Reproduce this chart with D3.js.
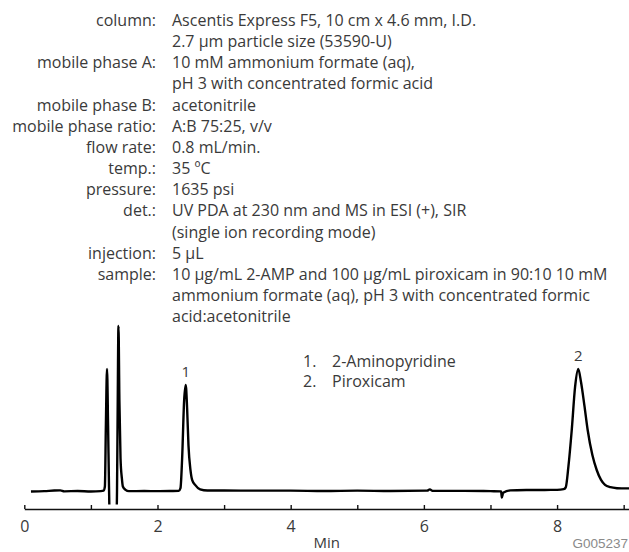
<!DOCTYPE html>
<html>
<head>
<meta charset="utf-8">
<script src="https://cdn.jsdelivr.net/npm/d3@7"></script>
<style>
  body { margin: 0; background: #fff; }
  svg { display: block; }
</style>
</head>
<body>
<div id="chart"></div>
<script>
// conditions block (label column / value column)
const condLabels = ['column:', '', 'mobile phase A:', '', 'mobile phase B:', 'mobile phase ratio:',
  'flow rate:', 'temp.:', 'pressure:', 'det.:', '', 'injection:', 'sample:', '', ''];
const condValues = ['Ascentis Express F5, 10 cm x 4.6 mm, I.D.', '2.7 µm particle size (53590-U)',
  '10 mM ammonium formate (aq),', 'pH 3 with concentrated formic acid', 'acetonitrile',
  'A:B 75:25, v/v', '0.8 mL/min.', '35 ºC', '1635 psi', 'UV PDA at 230 nm and MS in ESI (+), SIR',
  '(single ion recording mode)', '5 µL', '10 µg/mL 2-AMP and 100 µg/mL piroxicam in 90:10 10 mM',
  'ammonium formate (aq), pH 3 with concentrated formic', 'acid:acetonitrile'];

// legend
const peakNames = ['2-Aminopyridine', 'Piroxicam'];
const peakLabels = ['1', '2'];
const peakTimes = [2.424, 8.318];
const peakHeights = [64.4, 74];

// axis
const tickValues = [0, 1, 2, 3, 4, 5, 6, 7, 8, 9];
const tickLabels = ['0', '', '2', '', '4', '', '6', '', '8', ''];

// chromatogram trace (time in min, signal in relative units)
const timeMin = [0.10, 0.30, 0.45, 0.54, 0.60, 0.80, 1.00, 1.15, 1.19, 1.21, 1.225, 1.242, 1.258, 1.272,
  1.285, 1.38, 1.392, 1.402, 1.414, 1.428, 1.445, 1.465, 1.48, 1.52, 1.57, 1.8, 2.0, 2.2, 2.32, 2.345,
  2.37, 2.40, 2.424, 2.445, 2.465, 2.495, 2.52, 2.565, 2.64, 2.75, 3.0, 3.5, 4.0, 4.5, 5.0, 5.5, 6.05,
  6.09, 6.13, 6.6, 7.0, 7.16, 7.17, 7.19, 7.3, 7.6, 8.0, 8.10, 8.13, 8.17, 8.22, 8.27, 8.318, 8.36, 8.41,
  8.46, 8.53, 8.595, 8.66, 8.72, 8.80, 8.90, 8.97, 9.08];
const signal = [0, 0.2, 0.6, 0.7, 0.1, 0.3, 0.0, 0.2, 0.5, 3, 40, 74, 40, 3,
  -20, -20, 0, 50, 100, 55, 20, 8, 3, 1, 0.2, 0.3, 0.2, 0.3, 0.4, 2,
  20, 55, 64.4, 50, 28, 13, 7, 4, 1.3, 0.6, 0.6, 0.5, 0.5, 0.3, 0.5, 0.3, 0.5,
  1.3, 0.4, 0.4, 0.2, 0.1, -3.7, -0.8, 0.7, 0.9, 1.0, 1.4, 2.5, 15, 37, 63, 74, 66, 52,
  37, 22, 13, 7, 4, 2.6, 2.0, 1.9, 1.9];

const width = 629, height = 552;
const font = 'Open Sans, sans-serif';
const textColor = '#3a3a3a';

const svg = d3.select('#chart').append('svg')
  .attr('width', width)
  .attr('height', height);

// conditions text
const rowH = 21.15, firstBase = 26;
const rows = svg.append('g')
  .attr('font-family', font)
  .attr('font-size', 16)
  .attr('fill', textColor);
rows.selectAll('text.lab')
  .data(condLabels)
  .enter().append('text')
  .attr('class', 'lab')
  .attr('x', 156)
  .attr('y', (d, i) => firstBase + i * rowH)
  .attr('text-anchor', 'end')
  .text(d => d);
rows.selectAll('text.val')
  .data(condValues)
  .enter().append('text')
  .attr('class', 'val')
  .attr('x', 172)
  .attr('y', (d, i) => firstBase + i * rowH)
  .text(d => d);

// scales
let x = d3.scaleLinear().domain([0, 9.08]).range([24.3, 629]);
let y = d3.scaleLinear().domain([0, 100]).range([491.5, 326]);

// clip the negative system peaks just above the axis
svg.append('defs').append('clipPath')
  .attr('id', 'plotClip')
  .append('rect')
  .attr('x', 0).attr('y', 0)
  .attr('width', width).attr('height', 504.5);

let trace = timeMin.map((t, i) => ({ t: t, v: signal[i] }));
let line = d3.line()
  .x(d => x(d.t))
  .y(d => y(d.v))
  .curve(d3.curveMonotoneX);

svg.append('path')
  .datum(trace)
  .attr('clip-path', 'url(#plotClip)')
  .attr('fill', 'none')
  .attr('stroke', '#000')
  .attr('stroke-width', 2.4)
  .attr('stroke-linejoin', 'round')
  .attr('d', line);

// x axis, ticks pointing up
let axis = svg.append('g')
  .attr('transform', 'translate(0,509)')
  .call(d3.axisBottom(x)
    .tickValues(tickValues)
    .tickSize(-4)
    .tickSizeOuter(0)
    .tickPadding(12)
    .tickFormat((d, i) => tickLabels[i]));
axis.select('.domain').attr('stroke', '#111').attr('stroke-width', 1.6);
axis.selectAll('.tick line').attr('stroke', '#111').attr('stroke-width', 1.4);
axis.selectAll('.tick text')
  .attr('font-family', font)
  .attr('font-size', 16)
  .attr('fill', textColor);

// axis title
svg.append('text')
  .attr('x', (x.range()[0] + x.range()[1]) / 2)
  .attr('y', 548)
  .attr('text-anchor', 'middle')
  .attr('font-family', font)
  .attr('font-size', 15)
  .attr('fill', textColor)
  .text('Min');

// figure code
svg.append('text')
  .attr('x', 628)
  .attr('y', 548)
  .attr('text-anchor', 'end')
  .attr('font-family', 'Liberation Sans Narrow, Arial Narrow, sans-serif')
  .attr('font-size', 13.5)
  .attr('fill', '#8a8a8a')
  .text('G005237');

// peak numbers
svg.selectAll('text.peak')
  .data(peakLabels)
  .enter().append('text')
  .attr('class', 'peak')
  .attr('x', (d, i) => x(peakTimes[i]))
  .attr('y', (d, i) => y(peakHeights[i]) - 8)
  .attr('text-anchor', 'middle')
  .attr('font-family', font)
  .attr('font-size', 15)
  .attr('fill', textColor)
  .text(d => d);

// legend
let legend = svg.append('g')
  .attr('font-family', font)
  .attr('font-size', 16)
  .attr('fill', textColor);
legend.selectAll('text.num')
  .data(peakNames)
  .enter().append('text')
  .attr('x', 303)
  .attr('y', (d, i) => 367 + i * 20)
  .text((d, i) => (i + 1) + '.');
legend.selectAll('text.name')
  .data(peakNames)
  .enter().append('text')
  .attr('x', 332)
  .attr('y', (d, i) => 367 + i * 20)
  .text(d => d);
</script>
</body>
</html>
